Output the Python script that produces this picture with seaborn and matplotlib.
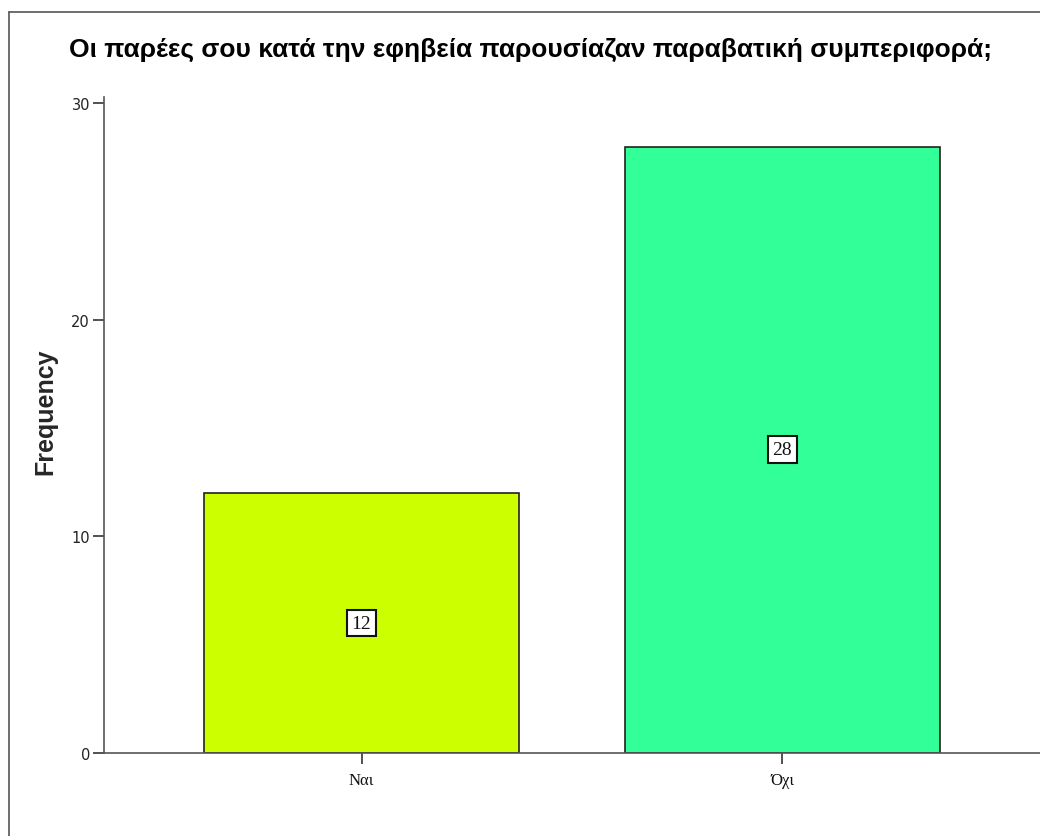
import matplotlib
matplotlib.use("Agg")
import matplotlib.pyplot as plt
import seaborn as sns
import pandas as pd
from matplotlib.lines import Line2D

categories = ["Ναι", "Όχι"]
counts = [12, 28]
colors = ["#CCFF00", "#33FF99"]
yticks = [0, 10, 20, 30]
title = "Οι παρέες σου κατά την εφηβεία παρουσίαζαν παραβατική συμπεριφορά;"

sns.set_theme(style="white")
plt.rcParams["font.family"] = ["Liberation Sans", "DejaVu Sans"]

df = pd.DataFrame({"cat": categories, "n": counts})

fig = plt.figure(figsize=(10.4, 8.37), dpi=100)
ax = fig.add_axes([0.1, 0.0992, 0.9, 0.7838])
sns.barplot(data=df, x="cat", y="n", hue="cat", palette=colors, legend=False,
            width=0.748, edgecolor="#222222", linewidth=1.2, ax=ax, saturation=1)

ax.set_xlim(-0.612, 1.612)
ax.set_ylim(0, 30.3)
ax.set_yticks(yticks)
ax.set_yticklabels([str(t) for t in yticks], fontsize=10.5, color="#222222",
                   family=["DejaVu Sans"])
ax.set_xticks(range(len(categories)))
ax.set_xticklabels(categories, fontsize=12, family=["Liberation Serif"], color="#111111")
ax.tick_params(axis="both", which="both", length=8, width=1.2, color="#333333",
               direction="out", left=True, bottom=True)
ax.tick_params(axis="x", pad=6)
ax.tick_params(axis="y", pad=2)
for s in ["top", "right"]:
    ax.spines[s].set_visible(False)
for s in ["left", "bottom"]:
    ax.spines[s].set_color("#555555")
    ax.spines[s].set_linewidth(1.2)

ax.set_xlabel("")
ax.set_ylabel("Frequency", fontsize=18, fontweight="bold", va="center")
ax.yaxis.set_label_coords(-0.063, 0.521)

for i, v in enumerate(counts):
    ax.text(i, v / 2, str(v), ha="center", va="center", fontsize=14,
            family=["Liberation Serif"], color="#111111",
            bbox=dict(boxstyle="square,pad=0.25", facecolor="white",
                      edgecolor="#111111", linewidth=1.5))

fig.text(0.51, 0.94, title, ha="center", va="center", fontsize=19,
         fontweight="bold", color="black")

x0 = 8.5 / 1040
y0 = 1 - 12.5 / 837
fig.lines.append(Line2D([x0, x0], [0, y0], transform=fig.transFigure,
                        color="#555555", linewidth=1.2))
fig.lines.append(Line2D([x0, 1], [y0, y0], transform=fig.transFigure,
                        color="#555555", linewidth=1.2))

fig.savefig("out.png", dpi=100)
